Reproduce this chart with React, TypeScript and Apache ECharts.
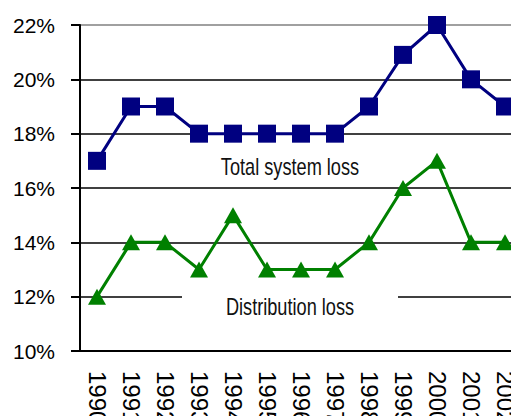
import React, { useEffect, useRef } from "react";
import * as echarts from "echarts";

const years = ["1990", "1991", "1992", "1993", "1994", "1995", "1996", "1997", "1998", "1999", "2000", "2001", "2002"];
const totalLoss = [17, 19, 19, 18, 18, 18, 18, 18, 19, 20.9, 22, 20, 19];
const distributionLoss = [12, 14, 14, 13, 15, 13, 13, 13, 14, 16, 17, 14, 14];
const totalLabel = "Total system loss";
const distLabel = "Distribution loss";

const FONT = "'Liberation Sans', Arial, sans-serif";

export default function App() {
  const ref = useRef<HTMLDivElement>(null);
  useEffect(() => {
    if (!ref.current) return;
    const chart = echarts.init(ref.current, undefined, { renderer: "svg" });
    chart.setOption({
      animation: false,
      backgroundColor: "#ffffff",
      grid: { left: 80, top: 25, width: 442, height: 326, containLabel: false, outerBoundsMode: "none" },
      xAxis: {
        type: "category",
        data: years,
        boundaryGap: true,
        axisLine: { lineStyle: { color: "#000", width: 2 } },
        axisTick: { alignWithLabel: false, length: 8, lineStyle: { color: "#000", width: 2 } },
        axisLabel: { rotate: -90, margin: 20, fontSize: 24, fontFamily: FONT, color: "#000", interval: 0 },
        splitLine: { show: false },
      },
      yAxis: {
        type: "value",
        min: 10,
        max: 22,
        interval: 2,
        axisLine: { show: true, lineStyle: { color: "#000", width: 2 } },
        axisTick: { show: true, length: 9, lineStyle: { color: "#000", width: 2 } },
        axisLabel: { formatter: "{value}%", margin: 25, fontSize: 21, fontFamily: FONT, color: "#000" },
        splitLine: {
          show: true,
          lineStyle: { color: ["#000", "#000", "#000", "#000", "#000", "#000", "#808080"], width: 1.5 },
        },
      },
      series: [
        {
          type: "line",
          data: totalLoss,
          lineStyle: { color: "#000080", width: 3 },
          itemStyle: { color: "#000080" },
          symbol: "rect",
          symbolSize: 18,
          z: 5,
        },
        {
          type: "line",
          data: distributionLoss,
          lineStyle: { color: "#008000", width: 3 },
          itemStyle: { color: "#008000" },
          symbol: "triangle",
          symbolSize: [18, 16],
          z: 5,
        },
      ],
      graphic: [
        { type: "rect", z: 10, shape: { x: 182, y: 286, width: 216, height: 36 }, style: { fill: "#fff" } },
        {
          type: "text",
          z: 11,
          x: 290,
          y: 167,
          scaleX: 0.79,
          style: { text: totalLabel, font: `23px ${FONT}`, fill: "#111", textAlign: "center", textVerticalAlign: "middle" },
        },
        {
          type: "text",
          z: 11,
          x: 290,
          y: 307,
          scaleX: 0.79,
          style: { text: distLabel, font: `23px ${FONT}`, fill: "#111", textAlign: "center", textVerticalAlign: "middle" },
        },
      ],
    });
    return () => chart.dispose();
  }, []);
  return <div ref={ref} style={{ width: 511, height: 416, position: "absolute", left: 0, top: 0 }} />;
}
